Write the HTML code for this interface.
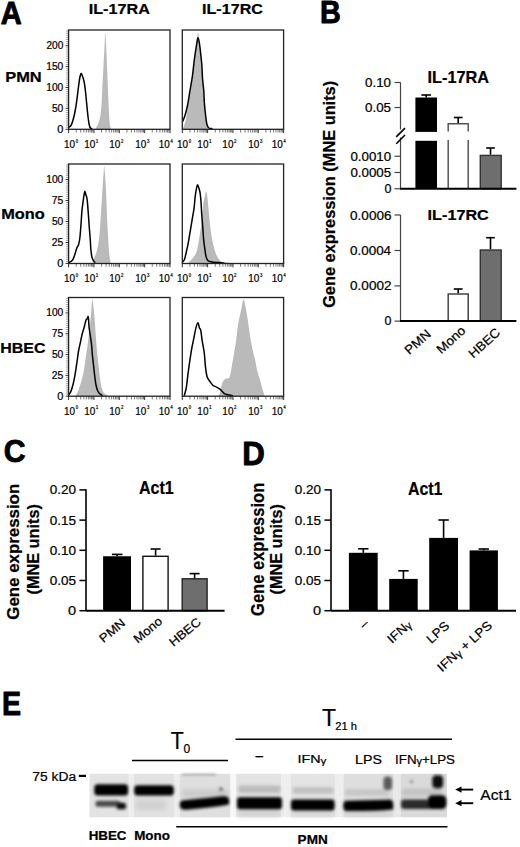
<!DOCTYPE html>
<html><head><meta charset="utf-8"><style>
html,body{margin:0;padding:0;background:#fff;width:520px;height:847px;overflow:hidden}
svg{display:block}
text{font-family:"Liberation Sans",sans-serif;stroke:#000;stroke-width:0.22px;stroke-linejoin:round}
</style></head><body>
<svg width="520" height="847" viewBox="0 0 520 847">
<rect width="520" height="847" fill="#fff"/>
<text transform="translate(1.45,23.52) scale(0.92,1) translate(-0.79,0)" font-size="31.63" font-weight="bold" fill="#000" style="stroke-width:0.9px">A</text>
<text transform="translate(89.75,13.75) scale(1.05,1) translate(-1,0)" font-size="15.43" font-weight="bold" fill="#000">IL-17RA</text>
<text transform="translate(203.1,13.75) scale(1.06,1) translate(-0.99,0)" font-size="15.21" font-weight="bold" fill="#000">IL-17RC</text>
<text transform="translate(6.25,81.5) scale(1.08,1) translate(-0.99,0)" font-size="15.22" font-weight="bold" fill="#000">PMN</text>
<text transform="translate(2.25,219.4) scale(1.13,1) translate(-0.94,0)" font-size="14.49" font-weight="bold" fill="#000">Mono</text>
<text transform="translate(1.25,352.5) scale(1.12,1) translate(-0.93,0)" font-size="14.29" font-weight="bold" fill="#000">HBEC</text>
<text transform="translate(57.6,132.8) scale(1.1,1) translate(-0.4,0)" font-size="10" font-weight="normal" fill="#000">0</text>
<text transform="translate(52.3,111.89) scale(1.02,1) translate(-0.4,0)" font-size="10" font-weight="normal" fill="#000">50</text>
<text transform="translate(47,90.99) scale(1.02,1) translate(-0.75,0)" font-size="10" font-weight="normal" fill="#000">100</text>
<text transform="translate(47,70.08) scale(1.02,1) translate(-0.75,0)" font-size="10" font-weight="normal" fill="#000">150</text>
<text transform="translate(47,49.18) scale(1.01,1) translate(-0.5,0)" font-size="10" font-weight="normal" fill="#000">200</text>
<path d="M96,129.3 C96,129.08 95.58,129.05 96,128 C96.42,126.95 97.77,125.08 98.5,123 C99.23,120.92 99.85,118.83 100.38,115.5 C100.9,112.17 101.27,108.21 101.62,103 C101.98,97.79 102.19,90.5 102.5,84.25 C102.81,78 103.17,71.75 103.5,65.5 C103.83,59.25 104.19,52.27 104.5,46.75 C104.81,41.23 105.08,32.38 105.38,32.38 C105.67,32.38 105.94,40.19 106.25,46.75 C106.56,53.31 106.92,63.42 107.25,71.75 C107.58,80.08 107.94,89.46 108.25,96.75 C108.56,104.04 108.83,110.71 109.12,115.5 C109.42,120.29 109.69,123.42 110,125.5 C110.31,127.58 110.83,127.37 111,128 C111.17,128.63 111,129.08 111,129.3 Z" fill="#bababa" stroke="none"/>
<path d="M68.5,127.38 C68.92,127.06 70.27,126.65 71,125.5 C71.73,124.35 72.25,122.58 72.88,120.5 C73.5,118.42 74.12,116.12 74.75,113 C75.38,109.88 76,106.12 76.62,101.75 C77.25,97.38 77.98,90.71 78.5,86.75 C79.02,82.79 79.33,80.19 79.75,78 C80.17,75.81 80.58,74.04 81,73.62 C81.42,73.21 81.73,74.15 82.25,75.5 C82.77,76.85 83.6,79.25 84.12,81.75 C84.65,84.25 84.96,86.96 85.38,90.5 C85.79,94.04 86.21,98.83 86.62,103 C87.04,107.17 87.46,111.96 87.88,115.5 C88.29,119.04 88.71,122.17 89.12,124.25 C89.54,126.33 89.85,127.27 90.38,128 C90.9,128.73 91.94,128.52 92.25,128.62" fill="none" stroke="#000" stroke-width="1.5" stroke-linejoin="round"/>
<line x1="65.6" y1="129.3" x2="68.6" y2="129.3" stroke="#333" stroke-width="1" />
<line x1="66" y1="127.21" x2="68.6" y2="127.21" stroke="#666" stroke-width="0.6" />
<line x1="66" y1="125.12" x2="68.6" y2="125.12" stroke="#666" stroke-width="0.6" />
<line x1="66" y1="123.03" x2="68.6" y2="123.03" stroke="#666" stroke-width="0.6" />
<line x1="66" y1="120.94" x2="68.6" y2="120.94" stroke="#666" stroke-width="0.6" />
<line x1="66" y1="118.85" x2="68.6" y2="118.85" stroke="#666" stroke-width="0.6" />
<line x1="66" y1="116.76" x2="68.6" y2="116.76" stroke="#666" stroke-width="0.6" />
<line x1="66" y1="114.67" x2="68.6" y2="114.67" stroke="#666" stroke-width="0.6" />
<line x1="66" y1="112.58" x2="68.6" y2="112.58" stroke="#666" stroke-width="0.6" />
<line x1="66" y1="110.49" x2="68.6" y2="110.49" stroke="#666" stroke-width="0.6" />
<line x1="65.6" y1="108.39" x2="68.6" y2="108.39" stroke="#333" stroke-width="1" />
<line x1="66" y1="106.3" x2="68.6" y2="106.3" stroke="#666" stroke-width="0.6" />
<line x1="66" y1="104.21" x2="68.6" y2="104.21" stroke="#666" stroke-width="0.6" />
<line x1="66" y1="102.12" x2="68.6" y2="102.12" stroke="#666" stroke-width="0.6" />
<line x1="66" y1="100.03" x2="68.6" y2="100.03" stroke="#666" stroke-width="0.6" />
<line x1="66" y1="97.94" x2="68.6" y2="97.94" stroke="#666" stroke-width="0.6" />
<line x1="66" y1="95.85" x2="68.6" y2="95.85" stroke="#666" stroke-width="0.6" />
<line x1="66" y1="93.76" x2="68.6" y2="93.76" stroke="#666" stroke-width="0.6" />
<line x1="66" y1="91.67" x2="68.6" y2="91.67" stroke="#666" stroke-width="0.6" />
<line x1="66" y1="89.58" x2="68.6" y2="89.58" stroke="#666" stroke-width="0.6" />
<line x1="65.6" y1="87.49" x2="68.6" y2="87.49" stroke="#333" stroke-width="1" />
<line x1="66" y1="85.4" x2="68.6" y2="85.4" stroke="#666" stroke-width="0.6" />
<line x1="66" y1="83.31" x2="68.6" y2="83.31" stroke="#666" stroke-width="0.6" />
<line x1="66" y1="81.22" x2="68.6" y2="81.22" stroke="#666" stroke-width="0.6" />
<line x1="66" y1="79.13" x2="68.6" y2="79.13" stroke="#666" stroke-width="0.6" />
<line x1="66" y1="77.04" x2="68.6" y2="77.04" stroke="#666" stroke-width="0.6" />
<line x1="66" y1="74.95" x2="68.6" y2="74.95" stroke="#666" stroke-width="0.6" />
<line x1="66" y1="72.86" x2="68.6" y2="72.86" stroke="#666" stroke-width="0.6" />
<line x1="66" y1="70.77" x2="68.6" y2="70.77" stroke="#666" stroke-width="0.6" />
<line x1="66" y1="68.67" x2="68.6" y2="68.67" stroke="#666" stroke-width="0.6" />
<line x1="65.6" y1="66.58" x2="68.6" y2="66.58" stroke="#333" stroke-width="1" />
<line x1="66" y1="64.49" x2="68.6" y2="64.49" stroke="#666" stroke-width="0.6" />
<line x1="66" y1="62.4" x2="68.6" y2="62.4" stroke="#666" stroke-width="0.6" />
<line x1="66" y1="60.31" x2="68.6" y2="60.31" stroke="#666" stroke-width="0.6" />
<line x1="66" y1="58.22" x2="68.6" y2="58.22" stroke="#666" stroke-width="0.6" />
<line x1="66" y1="56.13" x2="68.6" y2="56.13" stroke="#666" stroke-width="0.6" />
<line x1="66" y1="54.04" x2="68.6" y2="54.04" stroke="#666" stroke-width="0.6" />
<line x1="66" y1="51.95" x2="68.6" y2="51.95" stroke="#666" stroke-width="0.6" />
<line x1="66" y1="49.86" x2="68.6" y2="49.86" stroke="#666" stroke-width="0.6" />
<line x1="66" y1="47.77" x2="68.6" y2="47.77" stroke="#666" stroke-width="0.6" />
<line x1="65.6" y1="45.68" x2="68.6" y2="45.68" stroke="#333" stroke-width="1" />
<line x1="66" y1="43.59" x2="68.6" y2="43.59" stroke="#666" stroke-width="0.6" />
<line x1="66" y1="41.5" x2="68.6" y2="41.5" stroke="#666" stroke-width="0.6" />
<line x1="66" y1="39.41" x2="68.6" y2="39.41" stroke="#666" stroke-width="0.6" />
<line x1="66" y1="37.32" x2="68.6" y2="37.32" stroke="#666" stroke-width="0.6" />
<line x1="66" y1="35.23" x2="68.6" y2="35.23" stroke="#666" stroke-width="0.6" />
<line x1="66" y1="33.14" x2="68.6" y2="33.14" stroke="#666" stroke-width="0.6" />
<line x1="66" y1="31.05" x2="68.6" y2="31.05" stroke="#666" stroke-width="0.6" />
<line x1="68.6" y1="129.3" x2="68.6" y2="133.1" stroke="#333" stroke-width="1" />
<line x1="76.23" y1="129.3" x2="76.23" y2="132.5" stroke="#555" stroke-width="0.8" />
<line x1="80.7" y1="129.3" x2="80.7" y2="132.5" stroke="#555" stroke-width="0.8" />
<line x1="83.86" y1="129.3" x2="83.86" y2="132.5" stroke="#555" stroke-width="0.8" />
<line x1="86.32" y1="129.3" x2="86.32" y2="132.5" stroke="#555" stroke-width="0.8" />
<line x1="88.33" y1="129.3" x2="88.33" y2="132.5" stroke="#555" stroke-width="0.8" />
<line x1="90.02" y1="129.3" x2="90.02" y2="132.5" stroke="#555" stroke-width="0.8" />
<line x1="91.49" y1="129.3" x2="91.49" y2="132.5" stroke="#555" stroke-width="0.8" />
<line x1="92.79" y1="129.3" x2="92.79" y2="132.5" stroke="#555" stroke-width="0.8" />
<line x1="93.95" y1="129.3" x2="93.95" y2="133.1" stroke="#333" stroke-width="1" />
<line x1="101.58" y1="129.3" x2="101.58" y2="132.5" stroke="#555" stroke-width="0.8" />
<line x1="106.05" y1="129.3" x2="106.05" y2="132.5" stroke="#555" stroke-width="0.8" />
<line x1="109.21" y1="129.3" x2="109.21" y2="132.5" stroke="#555" stroke-width="0.8" />
<line x1="111.67" y1="129.3" x2="111.67" y2="132.5" stroke="#555" stroke-width="0.8" />
<line x1="113.68" y1="129.3" x2="113.68" y2="132.5" stroke="#555" stroke-width="0.8" />
<line x1="115.37" y1="129.3" x2="115.37" y2="132.5" stroke="#555" stroke-width="0.8" />
<line x1="116.84" y1="129.3" x2="116.84" y2="132.5" stroke="#555" stroke-width="0.8" />
<line x1="118.14" y1="129.3" x2="118.14" y2="132.5" stroke="#555" stroke-width="0.8" />
<line x1="119.3" y1="129.3" x2="119.3" y2="133.1" stroke="#333" stroke-width="1" />
<line x1="126.93" y1="129.3" x2="126.93" y2="132.5" stroke="#555" stroke-width="0.8" />
<line x1="131.4" y1="129.3" x2="131.4" y2="132.5" stroke="#555" stroke-width="0.8" />
<line x1="134.56" y1="129.3" x2="134.56" y2="132.5" stroke="#555" stroke-width="0.8" />
<line x1="137.02" y1="129.3" x2="137.02" y2="132.5" stroke="#555" stroke-width="0.8" />
<line x1="139.03" y1="129.3" x2="139.03" y2="132.5" stroke="#555" stroke-width="0.8" />
<line x1="140.72" y1="129.3" x2="140.72" y2="132.5" stroke="#555" stroke-width="0.8" />
<line x1="142.19" y1="129.3" x2="142.19" y2="132.5" stroke="#555" stroke-width="0.8" />
<line x1="143.49" y1="129.3" x2="143.49" y2="132.5" stroke="#555" stroke-width="0.8" />
<line x1="144.65" y1="129.3" x2="144.65" y2="133.1" stroke="#333" stroke-width="1" />
<line x1="152.28" y1="129.3" x2="152.28" y2="132.5" stroke="#555" stroke-width="0.8" />
<line x1="156.75" y1="129.3" x2="156.75" y2="132.5" stroke="#555" stroke-width="0.8" />
<line x1="159.91" y1="129.3" x2="159.91" y2="132.5" stroke="#555" stroke-width="0.8" />
<line x1="162.37" y1="129.3" x2="162.37" y2="132.5" stroke="#555" stroke-width="0.8" />
<line x1="164.38" y1="129.3" x2="164.38" y2="132.5" stroke="#555" stroke-width="0.8" />
<line x1="166.07" y1="129.3" x2="166.07" y2="132.5" stroke="#555" stroke-width="0.8" />
<line x1="167.54" y1="129.3" x2="167.54" y2="132.5" stroke="#555" stroke-width="0.8" />
<line x1="168.84" y1="129.3" x2="168.84" y2="132.5" stroke="#555" stroke-width="0.8" />
<line x1="170" y1="129.3" x2="170" y2="133.1" stroke="#333" stroke-width="1" />
<rect x="68.6" y="30" width="101.4" height="99.3" fill="none" stroke="#222" stroke-width="1.3"/>
<text transform="translate(64.75,147.6) scale(0.94,1) translate(-0.79,0)" font-size="10.57" font-weight="normal" fill="#000">10</text>
<text transform="translate(75.95,142.5) scale(0.81,1) translate(-0.21,0)" font-size="5.14" font-weight="normal" fill="#000">0</text>
<text transform="translate(85,147.6) scale(0.94,1) translate(-0.79,0)" font-size="10.57" font-weight="normal" fill="#000">10</text>
<text transform="translate(96.2,142.5) scale(0.88,1) translate(-0.39,0)" font-size="5.22" font-weight="normal" fill="#000">1</text>
<text transform="translate(110,147.6) scale(0.94,1) translate(-0.79,0)" font-size="10.57" font-weight="normal" fill="#000">10</text>
<text transform="translate(121.2,142.5) scale(0.85,1) translate(-0.26,0)" font-size="5.14" font-weight="normal" fill="#000">2</text>
<text transform="translate(136,147.6) scale(0.94,1) translate(-0.79,0)" font-size="10.57" font-weight="normal" fill="#000">10</text>
<text transform="translate(147.2,142.5) scale(0.82,1) translate(-0.21,0)" font-size="5.14" font-weight="normal" fill="#000">3</text>
<text transform="translate(159.4,147.6) scale(0.94,1) translate(-0.79,0)" font-size="10.57" font-weight="normal" fill="#000">10</text>
<text transform="translate(170.6,142.5) scale(0.76,1) translate(-0.1,0)" font-size="5.22" font-weight="normal" fill="#000">4</text>
<path d="M183.12,129.3 C183.12,129.08 182.71,129.47 183.12,128 C183.54,126.53 184.85,123.83 185.62,120.5 C186.4,117.17 186.98,113 187.75,108 C188.52,103 189.42,95.92 190.25,90.5 C191.08,85.08 192.02,80.71 192.75,75.5 C193.48,70.29 194,64.46 194.62,59.25 C195.25,54.04 195.92,48.73 196.5,44.25 C197.08,39.77 197.58,32.38 198.12,32.38 C198.67,32.38 199.27,40.19 199.75,44.25 C200.23,48.31 200.58,51.54 201,56.75 C201.42,61.96 201.83,69.88 202.25,75.5 C202.67,81.12 203.08,85.5 203.5,90.5 C203.92,95.5 204.33,100.92 204.75,105.5 C205.17,110.08 205.5,114.25 206,118 C206.5,121.75 207.46,126.12 207.75,128 C208.04,129.88 207.75,129.08 207.75,129.3 Z" fill="#bababa" stroke="none"/>
<path d="M182.5,121.75 C182.92,120.71 184.17,118.21 185,115.5 C185.83,112.79 186.67,109.67 187.5,105.5 C188.33,101.33 189.17,95.5 190,90.5 C190.83,85.5 191.77,80.71 192.5,75.5 C193.23,70.29 193.75,64.04 194.38,59.25 C195,54.46 195.73,50.08 196.25,46.75 C196.77,43.42 197.19,40.71 197.5,39.25 C197.81,37.79 197.81,37.38 198.12,38 C198.44,38.62 198.96,40.5 199.38,43 C199.79,45.5 200.21,49.25 200.62,53 C201.04,56.75 201.56,61.33 201.88,65.5 C202.19,69.67 202.19,73.83 202.5,78 C202.81,82.17 203.44,86.33 203.75,90.5 C204.06,94.67 204.06,98.83 204.38,103 C204.69,107.17 205.21,111.96 205.62,115.5 C206.04,119.04 206.35,122.17 206.88,124.25 C207.4,126.33 207.81,127.27 208.75,128 C209.69,128.73 211.88,128.52 212.5,128.62" fill="none" stroke="#000" stroke-width="1.5" stroke-linejoin="round"/>
<line x1="182.3" y1="129.3" x2="182.3" y2="133.1" stroke="#333" stroke-width="1" />
<line x1="189.92" y1="129.3" x2="189.92" y2="132.5" stroke="#555" stroke-width="0.8" />
<line x1="194.38" y1="129.3" x2="194.38" y2="132.5" stroke="#555" stroke-width="0.8" />
<line x1="197.55" y1="129.3" x2="197.55" y2="132.5" stroke="#555" stroke-width="0.8" />
<line x1="200" y1="129.3" x2="200" y2="132.5" stroke="#555" stroke-width="0.8" />
<line x1="202.01" y1="129.3" x2="202.01" y2="132.5" stroke="#555" stroke-width="0.8" />
<line x1="203.7" y1="129.3" x2="203.7" y2="132.5" stroke="#555" stroke-width="0.8" />
<line x1="205.17" y1="129.3" x2="205.17" y2="132.5" stroke="#555" stroke-width="0.8" />
<line x1="206.47" y1="129.3" x2="206.47" y2="132.5" stroke="#555" stroke-width="0.8" />
<line x1="207.62" y1="129.3" x2="207.62" y2="133.1" stroke="#333" stroke-width="1" />
<line x1="215.25" y1="129.3" x2="215.25" y2="132.5" stroke="#555" stroke-width="0.8" />
<line x1="219.71" y1="129.3" x2="219.71" y2="132.5" stroke="#555" stroke-width="0.8" />
<line x1="222.87" y1="129.3" x2="222.87" y2="132.5" stroke="#555" stroke-width="0.8" />
<line x1="225.33" y1="129.3" x2="225.33" y2="132.5" stroke="#555" stroke-width="0.8" />
<line x1="227.33" y1="129.3" x2="227.33" y2="132.5" stroke="#555" stroke-width="0.8" />
<line x1="229.03" y1="129.3" x2="229.03" y2="132.5" stroke="#555" stroke-width="0.8" />
<line x1="230.5" y1="129.3" x2="230.5" y2="132.5" stroke="#555" stroke-width="0.8" />
<line x1="231.79" y1="129.3" x2="231.79" y2="132.5" stroke="#555" stroke-width="0.8" />
<line x1="232.95" y1="129.3" x2="232.95" y2="133.1" stroke="#333" stroke-width="1" />
<line x1="240.57" y1="129.3" x2="240.57" y2="132.5" stroke="#555" stroke-width="0.8" />
<line x1="245.03" y1="129.3" x2="245.03" y2="132.5" stroke="#555" stroke-width="0.8" />
<line x1="248.2" y1="129.3" x2="248.2" y2="132.5" stroke="#555" stroke-width="0.8" />
<line x1="250.65" y1="129.3" x2="250.65" y2="132.5" stroke="#555" stroke-width="0.8" />
<line x1="252.66" y1="129.3" x2="252.66" y2="132.5" stroke="#555" stroke-width="0.8" />
<line x1="254.35" y1="129.3" x2="254.35" y2="132.5" stroke="#555" stroke-width="0.8" />
<line x1="255.82" y1="129.3" x2="255.82" y2="132.5" stroke="#555" stroke-width="0.8" />
<line x1="257.12" y1="129.3" x2="257.12" y2="132.5" stroke="#555" stroke-width="0.8" />
<line x1="258.28" y1="129.3" x2="258.28" y2="133.1" stroke="#333" stroke-width="1" />
<line x1="265.9" y1="129.3" x2="265.9" y2="132.5" stroke="#555" stroke-width="0.8" />
<line x1="270.36" y1="129.3" x2="270.36" y2="132.5" stroke="#555" stroke-width="0.8" />
<line x1="273.52" y1="129.3" x2="273.52" y2="132.5" stroke="#555" stroke-width="0.8" />
<line x1="275.98" y1="129.3" x2="275.98" y2="132.5" stroke="#555" stroke-width="0.8" />
<line x1="277.98" y1="129.3" x2="277.98" y2="132.5" stroke="#555" stroke-width="0.8" />
<line x1="279.68" y1="129.3" x2="279.68" y2="132.5" stroke="#555" stroke-width="0.8" />
<line x1="281.15" y1="129.3" x2="281.15" y2="132.5" stroke="#555" stroke-width="0.8" />
<line x1="282.44" y1="129.3" x2="282.44" y2="132.5" stroke="#555" stroke-width="0.8" />
<line x1="283.6" y1="129.3" x2="283.6" y2="133.1" stroke="#333" stroke-width="1" />
<rect x="182.3" y="30" width="101.3" height="99.3" fill="none" stroke="#222" stroke-width="1.3"/>
<text transform="translate(177.75,147.6) scale(0.94,1) translate(-0.79,0)" font-size="10.57" font-weight="normal" fill="#000">10</text>
<text transform="translate(188.95,142.5) scale(0.81,1) translate(-0.21,0)" font-size="5.14" font-weight="normal" fill="#000">0</text>
<text transform="translate(198.1,147.6) scale(0.94,1) translate(-0.79,0)" font-size="10.57" font-weight="normal" fill="#000">10</text>
<text transform="translate(209.3,142.5) scale(0.88,1) translate(-0.39,0)" font-size="5.22" font-weight="normal" fill="#000">1</text>
<text transform="translate(223.1,147.6) scale(0.94,1) translate(-0.79,0)" font-size="10.57" font-weight="normal" fill="#000">10</text>
<text transform="translate(234.3,142.5) scale(0.85,1) translate(-0.26,0)" font-size="5.14" font-weight="normal" fill="#000">2</text>
<text transform="translate(249,147.6) scale(0.94,1) translate(-0.79,0)" font-size="10.57" font-weight="normal" fill="#000">10</text>
<text transform="translate(260.2,142.5) scale(0.82,1) translate(-0.21,0)" font-size="5.14" font-weight="normal" fill="#000">3</text>
<text transform="translate(272.4,147.6) scale(0.94,1) translate(-0.79,0)" font-size="10.57" font-weight="normal" fill="#000">10</text>
<text transform="translate(283.6,142.5) scale(0.76,1) translate(-0.1,0)" font-size="5.22" font-weight="normal" fill="#000">4</text>
<text transform="translate(57.6,267) scale(1.1,1) translate(-0.4,0)" font-size="10" font-weight="normal" fill="#000">0</text>
<text transform="translate(52.3,246.01) scale(1.04,1) translate(-0.5,0)" font-size="10" font-weight="normal" fill="#000">25</text>
<text transform="translate(52.3,225.02) scale(1.02,1) translate(-0.4,0)" font-size="10" font-weight="normal" fill="#000">50</text>
<text transform="translate(52.3,204.03) scale(1.02,1) translate(-0.51,0)" font-size="10.14" font-weight="normal" fill="#000">75</text>
<text transform="translate(47,183.03) scale(1.02,1) translate(-0.75,0)" font-size="10" font-weight="normal" fill="#000">100</text>
<path d="M92.77,263.5 C92.77,263.24 92.45,263.07 92.77,261.96 C93.08,260.86 94.04,258.56 94.68,256.86 C95.31,255.17 95.95,254.1 96.59,251.77 C97.23,249.43 97.97,246.24 98.5,242.84 C99.03,239.45 99.41,235.62 99.78,231.37 C100.14,227.13 100.35,222.24 100.67,217.35 C100.99,212.47 101.35,207.37 101.69,202.06 C102.03,196.75 102.39,190.38 102.71,185.49 C103.03,180.6 103.34,175.93 103.6,172.75 C103.85,169.56 104.02,166.37 104.24,166.37 C104.45,166.37 104.62,169.56 104.87,172.75 C105.13,175.93 105.49,180.6 105.77,185.49 C106.04,190.38 106.32,196.75 106.53,202.06 C106.74,207.37 106.83,212.47 107.04,217.35 C107.25,222.24 107.53,226.49 107.8,231.37 C108.08,236.26 108.4,242.42 108.7,246.67 C108.99,250.92 109.27,254.32 109.59,256.86 C109.91,259.41 110.44,260.86 110.61,261.96 C110.78,263.07 110.61,263.24 110.61,263.5 Z" fill="#bababa" stroke="none"/>
<path d="M68.55,262.6 C68.97,262.39 70.35,261.86 71.1,261.33 C71.84,260.79 72.37,260.58 73.01,259.41 C73.65,258.25 74.28,256.23 74.92,254.32 C75.56,252.4 76.2,249.64 76.83,247.94 C77.47,246.24 78.21,246.03 78.75,244.12 C79.28,242.21 79.64,239.87 80.02,236.47 C80.4,233.07 80.72,227.98 81.04,223.73 C81.36,219.48 81.57,214.8 81.93,210.98 C82.29,207.16 82.85,203.55 83.21,200.79 C83.57,198.02 83.82,196.01 84.1,194.41 C84.37,192.82 84.59,191.23 84.86,191.23 C85.14,191.23 85.46,193.46 85.76,194.41 C86.05,195.37 86.37,195.69 86.65,196.96 C86.92,198.24 87.14,199.3 87.41,202.06 C87.69,204.82 88.01,209.49 88.3,213.53 C88.6,217.57 88.88,222.03 89.2,226.28 C89.52,230.52 89.94,235.2 90.22,239.02 C90.49,242.84 90.58,246.24 90.85,249.22 C91.13,252.19 91.45,254.95 91.87,256.86 C92.3,258.78 92.83,259.73 93.4,260.69 C93.98,261.64 95,262.28 95.31,262.6" fill="none" stroke="#000" stroke-width="1.5" stroke-linejoin="round"/>
<line x1="65.6" y1="263.5" x2="68.6" y2="263.5" stroke="#333" stroke-width="1" />
<line x1="66" y1="261.4" x2="68.6" y2="261.4" stroke="#666" stroke-width="0.6" />
<line x1="66" y1="259.3" x2="68.6" y2="259.3" stroke="#666" stroke-width="0.6" />
<line x1="66" y1="257.2" x2="68.6" y2="257.2" stroke="#666" stroke-width="0.6" />
<line x1="66" y1="255.1" x2="68.6" y2="255.1" stroke="#666" stroke-width="0.6" />
<line x1="66" y1="253" x2="68.6" y2="253" stroke="#666" stroke-width="0.6" />
<line x1="66" y1="250.91" x2="68.6" y2="250.91" stroke="#666" stroke-width="0.6" />
<line x1="66" y1="248.81" x2="68.6" y2="248.81" stroke="#666" stroke-width="0.6" />
<line x1="66" y1="246.71" x2="68.6" y2="246.71" stroke="#666" stroke-width="0.6" />
<line x1="66" y1="244.61" x2="68.6" y2="244.61" stroke="#666" stroke-width="0.6" />
<line x1="65.6" y1="242.51" x2="68.6" y2="242.51" stroke="#333" stroke-width="1" />
<line x1="66" y1="240.41" x2="68.6" y2="240.41" stroke="#666" stroke-width="0.6" />
<line x1="66" y1="238.31" x2="68.6" y2="238.31" stroke="#666" stroke-width="0.6" />
<line x1="66" y1="236.21" x2="68.6" y2="236.21" stroke="#666" stroke-width="0.6" />
<line x1="66" y1="234.11" x2="68.6" y2="234.11" stroke="#666" stroke-width="0.6" />
<line x1="66" y1="232.01" x2="68.6" y2="232.01" stroke="#666" stroke-width="0.6" />
<line x1="66" y1="229.91" x2="68.6" y2="229.91" stroke="#666" stroke-width="0.6" />
<line x1="66" y1="227.81" x2="68.6" y2="227.81" stroke="#666" stroke-width="0.6" />
<line x1="66" y1="225.72" x2="68.6" y2="225.72" stroke="#666" stroke-width="0.6" />
<line x1="66" y1="223.62" x2="68.6" y2="223.62" stroke="#666" stroke-width="0.6" />
<line x1="65.6" y1="221.52" x2="68.6" y2="221.52" stroke="#333" stroke-width="1" />
<line x1="66" y1="219.42" x2="68.6" y2="219.42" stroke="#666" stroke-width="0.6" />
<line x1="66" y1="217.32" x2="68.6" y2="217.32" stroke="#666" stroke-width="0.6" />
<line x1="66" y1="215.22" x2="68.6" y2="215.22" stroke="#666" stroke-width="0.6" />
<line x1="66" y1="213.12" x2="68.6" y2="213.12" stroke="#666" stroke-width="0.6" />
<line x1="66" y1="211.02" x2="68.6" y2="211.02" stroke="#666" stroke-width="0.6" />
<line x1="66" y1="208.92" x2="68.6" y2="208.92" stroke="#666" stroke-width="0.6" />
<line x1="66" y1="206.82" x2="68.6" y2="206.82" stroke="#666" stroke-width="0.6" />
<line x1="66" y1="204.72" x2="68.6" y2="204.72" stroke="#666" stroke-width="0.6" />
<line x1="66" y1="202.62" x2="68.6" y2="202.62" stroke="#666" stroke-width="0.6" />
<line x1="65.6" y1="200.53" x2="68.6" y2="200.53" stroke="#333" stroke-width="1" />
<line x1="66" y1="198.43" x2="68.6" y2="198.43" stroke="#666" stroke-width="0.6" />
<line x1="66" y1="196.33" x2="68.6" y2="196.33" stroke="#666" stroke-width="0.6" />
<line x1="66" y1="194.23" x2="68.6" y2="194.23" stroke="#666" stroke-width="0.6" />
<line x1="66" y1="192.13" x2="68.6" y2="192.13" stroke="#666" stroke-width="0.6" />
<line x1="66" y1="190.03" x2="68.6" y2="190.03" stroke="#666" stroke-width="0.6" />
<line x1="66" y1="187.93" x2="68.6" y2="187.93" stroke="#666" stroke-width="0.6" />
<line x1="66" y1="185.83" x2="68.6" y2="185.83" stroke="#666" stroke-width="0.6" />
<line x1="66" y1="183.73" x2="68.6" y2="183.73" stroke="#666" stroke-width="0.6" />
<line x1="66" y1="181.63" x2="68.6" y2="181.63" stroke="#666" stroke-width="0.6" />
<line x1="65.6" y1="179.53" x2="68.6" y2="179.53" stroke="#333" stroke-width="1" />
<line x1="66" y1="177.43" x2="68.6" y2="177.43" stroke="#666" stroke-width="0.6" />
<line x1="66" y1="175.34" x2="68.6" y2="175.34" stroke="#666" stroke-width="0.6" />
<line x1="66" y1="173.24" x2="68.6" y2="173.24" stroke="#666" stroke-width="0.6" />
<line x1="66" y1="171.14" x2="68.6" y2="171.14" stroke="#666" stroke-width="0.6" />
<line x1="66" y1="169.04" x2="68.6" y2="169.04" stroke="#666" stroke-width="0.6" />
<line x1="66" y1="166.94" x2="68.6" y2="166.94" stroke="#666" stroke-width="0.6" />
<line x1="66" y1="164.84" x2="68.6" y2="164.84" stroke="#666" stroke-width="0.6" />
<line x1="68.6" y1="263.5" x2="68.6" y2="267.3" stroke="#333" stroke-width="1" />
<line x1="76.23" y1="263.5" x2="76.23" y2="266.7" stroke="#555" stroke-width="0.8" />
<line x1="80.7" y1="263.5" x2="80.7" y2="266.7" stroke="#555" stroke-width="0.8" />
<line x1="83.86" y1="263.5" x2="83.86" y2="266.7" stroke="#555" stroke-width="0.8" />
<line x1="86.32" y1="263.5" x2="86.32" y2="266.7" stroke="#555" stroke-width="0.8" />
<line x1="88.33" y1="263.5" x2="88.33" y2="266.7" stroke="#555" stroke-width="0.8" />
<line x1="90.02" y1="263.5" x2="90.02" y2="266.7" stroke="#555" stroke-width="0.8" />
<line x1="91.49" y1="263.5" x2="91.49" y2="266.7" stroke="#555" stroke-width="0.8" />
<line x1="92.79" y1="263.5" x2="92.79" y2="266.7" stroke="#555" stroke-width="0.8" />
<line x1="93.95" y1="263.5" x2="93.95" y2="267.3" stroke="#333" stroke-width="1" />
<line x1="101.58" y1="263.5" x2="101.58" y2="266.7" stroke="#555" stroke-width="0.8" />
<line x1="106.05" y1="263.5" x2="106.05" y2="266.7" stroke="#555" stroke-width="0.8" />
<line x1="109.21" y1="263.5" x2="109.21" y2="266.7" stroke="#555" stroke-width="0.8" />
<line x1="111.67" y1="263.5" x2="111.67" y2="266.7" stroke="#555" stroke-width="0.8" />
<line x1="113.68" y1="263.5" x2="113.68" y2="266.7" stroke="#555" stroke-width="0.8" />
<line x1="115.37" y1="263.5" x2="115.37" y2="266.7" stroke="#555" stroke-width="0.8" />
<line x1="116.84" y1="263.5" x2="116.84" y2="266.7" stroke="#555" stroke-width="0.8" />
<line x1="118.14" y1="263.5" x2="118.14" y2="266.7" stroke="#555" stroke-width="0.8" />
<line x1="119.3" y1="263.5" x2="119.3" y2="267.3" stroke="#333" stroke-width="1" />
<line x1="126.93" y1="263.5" x2="126.93" y2="266.7" stroke="#555" stroke-width="0.8" />
<line x1="131.4" y1="263.5" x2="131.4" y2="266.7" stroke="#555" stroke-width="0.8" />
<line x1="134.56" y1="263.5" x2="134.56" y2="266.7" stroke="#555" stroke-width="0.8" />
<line x1="137.02" y1="263.5" x2="137.02" y2="266.7" stroke="#555" stroke-width="0.8" />
<line x1="139.03" y1="263.5" x2="139.03" y2="266.7" stroke="#555" stroke-width="0.8" />
<line x1="140.72" y1="263.5" x2="140.72" y2="266.7" stroke="#555" stroke-width="0.8" />
<line x1="142.19" y1="263.5" x2="142.19" y2="266.7" stroke="#555" stroke-width="0.8" />
<line x1="143.49" y1="263.5" x2="143.49" y2="266.7" stroke="#555" stroke-width="0.8" />
<line x1="144.65" y1="263.5" x2="144.65" y2="267.3" stroke="#333" stroke-width="1" />
<line x1="152.28" y1="263.5" x2="152.28" y2="266.7" stroke="#555" stroke-width="0.8" />
<line x1="156.75" y1="263.5" x2="156.75" y2="266.7" stroke="#555" stroke-width="0.8" />
<line x1="159.91" y1="263.5" x2="159.91" y2="266.7" stroke="#555" stroke-width="0.8" />
<line x1="162.37" y1="263.5" x2="162.37" y2="266.7" stroke="#555" stroke-width="0.8" />
<line x1="164.38" y1="263.5" x2="164.38" y2="266.7" stroke="#555" stroke-width="0.8" />
<line x1="166.07" y1="263.5" x2="166.07" y2="266.7" stroke="#555" stroke-width="0.8" />
<line x1="167.54" y1="263.5" x2="167.54" y2="266.7" stroke="#555" stroke-width="0.8" />
<line x1="168.84" y1="263.5" x2="168.84" y2="266.7" stroke="#555" stroke-width="0.8" />
<line x1="170" y1="263.5" x2="170" y2="267.3" stroke="#333" stroke-width="1" />
<rect x="68.6" y="164" width="101.4" height="99.5" fill="none" stroke="#222" stroke-width="1.3"/>
<text transform="translate(64.75,281.8) scale(0.94,1) translate(-0.79,0)" font-size="10.57" font-weight="normal" fill="#000">10</text>
<text transform="translate(75.95,276.7) scale(0.81,1) translate(-0.21,0)" font-size="5.14" font-weight="normal" fill="#000">0</text>
<text transform="translate(85,281.8) scale(0.94,1) translate(-0.79,0)" font-size="10.57" font-weight="normal" fill="#000">10</text>
<text transform="translate(96.2,276.7) scale(0.88,1) translate(-0.39,0)" font-size="5.22" font-weight="normal" fill="#000">1</text>
<text transform="translate(110,281.8) scale(0.94,1) translate(-0.79,0)" font-size="10.57" font-weight="normal" fill="#000">10</text>
<text transform="translate(121.2,276.7) scale(0.85,1) translate(-0.26,0)" font-size="5.14" font-weight="normal" fill="#000">2</text>
<text transform="translate(136,281.8) scale(0.94,1) translate(-0.79,0)" font-size="10.57" font-weight="normal" fill="#000">10</text>
<text transform="translate(147.2,276.7) scale(0.82,1) translate(-0.21,0)" font-size="5.14" font-weight="normal" fill="#000">3</text>
<text transform="translate(159.4,281.8) scale(0.94,1) translate(-0.79,0)" font-size="10.57" font-weight="normal" fill="#000">10</text>
<text transform="translate(170.6,276.7) scale(0.76,1) translate(-0.1,0)" font-size="5.22" font-weight="normal" fill="#000">4</text>
<path d="M188.92,263.5 C188.92,263.24 188.28,262.86 188.92,261.96 C189.56,261.07 191.47,259.84 192.75,258.14 C194.02,256.44 195.51,254.95 196.57,251.77 C197.63,248.58 198.37,243.27 199.12,239.02 C199.86,234.77 200.5,230.52 201.03,226.28 C201.56,222.03 201.88,217.57 202.3,213.53 C202.73,209.49 203.05,205.46 203.58,202.06 C204.11,198.66 205.07,194.84 205.49,193.14 C205.92,191.44 205.81,191.23 206.13,191.86 C206.45,192.5 206.98,193.78 207.4,196.96 C207.83,200.15 208.25,206.52 208.68,210.98 C209.1,215.44 209.53,219.9 209.95,223.73 C210.38,227.55 210.7,230.52 211.23,233.92 C211.76,237.32 212.39,240.93 213.14,244.12 C213.88,247.31 214.84,250.7 215.69,253.04 C216.54,255.38 217.17,256.65 218.24,258.14 C219.3,259.63 220.36,261.22 222.06,261.96 C223.76,262.71 227.37,262.34 228.43,262.6 C229.49,262.86 228.43,263.35 228.43,263.5 Z" fill="#bababa" stroke="none"/>
<path d="M182.55,261.96 C182.87,261.54 183.82,261.11 184.46,259.41 C185.1,257.71 185.74,254.53 186.37,251.77 C187.01,249.01 187.65,246.24 188.28,242.84 C188.92,239.45 189.56,235.2 190.2,231.37 C190.83,227.55 191.47,223.73 192.11,219.9 C192.75,216.08 193.49,212.47 194.02,208.43 C194.55,204.4 194.87,199.09 195.29,195.69 C195.72,192.29 196.19,189.85 196.57,188.04 C196.95,186.23 197.21,184.85 197.59,184.85 C197.97,184.85 198.44,186.66 198.86,188.04 C199.29,189.42 199.78,190.8 200.14,193.14 C200.5,195.47 200.77,198.66 201.03,202.06 C201.28,205.46 201.39,209.49 201.67,213.53 C201.94,217.57 202.37,222.03 202.69,226.28 C203.01,230.52 203.22,235.2 203.58,239.02 C203.94,242.84 204.43,246.24 204.85,249.22 C205.28,252.19 205.6,254.95 206.13,256.86 C206.66,258.78 207.08,259.84 208.04,260.69 C209,261.54 210.16,261.64 211.86,261.96 C213.56,262.28 216.11,262.39 218.24,262.6 C220.36,262.81 223.55,263.13 224.61,263.24" fill="none" stroke="#000" stroke-width="1.5" stroke-linejoin="round"/>
<line x1="182.3" y1="263.5" x2="182.3" y2="267.3" stroke="#333" stroke-width="1" />
<line x1="189.92" y1="263.5" x2="189.92" y2="266.7" stroke="#555" stroke-width="0.8" />
<line x1="194.38" y1="263.5" x2="194.38" y2="266.7" stroke="#555" stroke-width="0.8" />
<line x1="197.55" y1="263.5" x2="197.55" y2="266.7" stroke="#555" stroke-width="0.8" />
<line x1="200" y1="263.5" x2="200" y2="266.7" stroke="#555" stroke-width="0.8" />
<line x1="202.01" y1="263.5" x2="202.01" y2="266.7" stroke="#555" stroke-width="0.8" />
<line x1="203.7" y1="263.5" x2="203.7" y2="266.7" stroke="#555" stroke-width="0.8" />
<line x1="205.17" y1="263.5" x2="205.17" y2="266.7" stroke="#555" stroke-width="0.8" />
<line x1="206.47" y1="263.5" x2="206.47" y2="266.7" stroke="#555" stroke-width="0.8" />
<line x1="207.62" y1="263.5" x2="207.62" y2="267.3" stroke="#333" stroke-width="1" />
<line x1="215.25" y1="263.5" x2="215.25" y2="266.7" stroke="#555" stroke-width="0.8" />
<line x1="219.71" y1="263.5" x2="219.71" y2="266.7" stroke="#555" stroke-width="0.8" />
<line x1="222.87" y1="263.5" x2="222.87" y2="266.7" stroke="#555" stroke-width="0.8" />
<line x1="225.33" y1="263.5" x2="225.33" y2="266.7" stroke="#555" stroke-width="0.8" />
<line x1="227.33" y1="263.5" x2="227.33" y2="266.7" stroke="#555" stroke-width="0.8" />
<line x1="229.03" y1="263.5" x2="229.03" y2="266.7" stroke="#555" stroke-width="0.8" />
<line x1="230.5" y1="263.5" x2="230.5" y2="266.7" stroke="#555" stroke-width="0.8" />
<line x1="231.79" y1="263.5" x2="231.79" y2="266.7" stroke="#555" stroke-width="0.8" />
<line x1="232.95" y1="263.5" x2="232.95" y2="267.3" stroke="#333" stroke-width="1" />
<line x1="240.57" y1="263.5" x2="240.57" y2="266.7" stroke="#555" stroke-width="0.8" />
<line x1="245.03" y1="263.5" x2="245.03" y2="266.7" stroke="#555" stroke-width="0.8" />
<line x1="248.2" y1="263.5" x2="248.2" y2="266.7" stroke="#555" stroke-width="0.8" />
<line x1="250.65" y1="263.5" x2="250.65" y2="266.7" stroke="#555" stroke-width="0.8" />
<line x1="252.66" y1="263.5" x2="252.66" y2="266.7" stroke="#555" stroke-width="0.8" />
<line x1="254.35" y1="263.5" x2="254.35" y2="266.7" stroke="#555" stroke-width="0.8" />
<line x1="255.82" y1="263.5" x2="255.82" y2="266.7" stroke="#555" stroke-width="0.8" />
<line x1="257.12" y1="263.5" x2="257.12" y2="266.7" stroke="#555" stroke-width="0.8" />
<line x1="258.28" y1="263.5" x2="258.28" y2="267.3" stroke="#333" stroke-width="1" />
<line x1="265.9" y1="263.5" x2="265.9" y2="266.7" stroke="#555" stroke-width="0.8" />
<line x1="270.36" y1="263.5" x2="270.36" y2="266.7" stroke="#555" stroke-width="0.8" />
<line x1="273.52" y1="263.5" x2="273.52" y2="266.7" stroke="#555" stroke-width="0.8" />
<line x1="275.98" y1="263.5" x2="275.98" y2="266.7" stroke="#555" stroke-width="0.8" />
<line x1="277.98" y1="263.5" x2="277.98" y2="266.7" stroke="#555" stroke-width="0.8" />
<line x1="279.68" y1="263.5" x2="279.68" y2="266.7" stroke="#555" stroke-width="0.8" />
<line x1="281.15" y1="263.5" x2="281.15" y2="266.7" stroke="#555" stroke-width="0.8" />
<line x1="282.44" y1="263.5" x2="282.44" y2="266.7" stroke="#555" stroke-width="0.8" />
<line x1="283.6" y1="263.5" x2="283.6" y2="267.3" stroke="#333" stroke-width="1" />
<rect x="182.3" y="164" width="101.3" height="99.5" fill="none" stroke="#222" stroke-width="1.3"/>
<text transform="translate(177.75,281.8) scale(0.94,1) translate(-0.79,0)" font-size="10.57" font-weight="normal" fill="#000">10</text>
<text transform="translate(188.95,276.7) scale(0.81,1) translate(-0.21,0)" font-size="5.14" font-weight="normal" fill="#000">0</text>
<text transform="translate(198.1,281.8) scale(0.94,1) translate(-0.79,0)" font-size="10.57" font-weight="normal" fill="#000">10</text>
<text transform="translate(209.3,276.7) scale(0.88,1) translate(-0.39,0)" font-size="5.22" font-weight="normal" fill="#000">1</text>
<text transform="translate(223.1,281.8) scale(0.94,1) translate(-0.79,0)" font-size="10.57" font-weight="normal" fill="#000">10</text>
<text transform="translate(234.3,276.7) scale(0.85,1) translate(-0.26,0)" font-size="5.14" font-weight="normal" fill="#000">2</text>
<text transform="translate(249,281.8) scale(0.94,1) translate(-0.79,0)" font-size="10.57" font-weight="normal" fill="#000">10</text>
<text transform="translate(260.2,276.7) scale(0.82,1) translate(-0.21,0)" font-size="5.14" font-weight="normal" fill="#000">3</text>
<text transform="translate(272.4,281.8) scale(0.94,1) translate(-0.79,0)" font-size="10.57" font-weight="normal" fill="#000">10</text>
<text transform="translate(283.6,276.7) scale(0.76,1) translate(-0.1,0)" font-size="5.22" font-weight="normal" fill="#000">4</text>
<text transform="translate(57.6,399.7) scale(1.1,1) translate(-0.4,0)" font-size="10" font-weight="normal" fill="#000">0</text>
<text transform="translate(52.3,378.88) scale(1.04,1) translate(-0.5,0)" font-size="10" font-weight="normal" fill="#000">25</text>
<text transform="translate(52.3,358.05) scale(1.02,1) translate(-0.4,0)" font-size="10" font-weight="normal" fill="#000">50</text>
<text transform="translate(52.3,337.23) scale(1.02,1) translate(-0.51,0)" font-size="10.14" font-weight="normal" fill="#000">75</text>
<text transform="translate(47,316.41) scale(1.02,1) translate(-0.75,0)" font-size="10" font-weight="normal" fill="#000">100</text>
<path d="M76,396.2 C76,396 75.58,396.03 76,395 C76.42,393.97 77.67,392.08 78.5,390 C79.33,387.92 80.17,385.42 81,382.5 C81.83,379.58 82.77,376.25 83.5,372.5 C84.23,368.75 84.75,364.17 85.38,360 C86,355.83 86.73,351.25 87.25,347.5 C87.77,343.75 88.08,341.04 88.5,337.5 C88.92,333.96 89.33,330.21 89.75,326.25 C90.17,322.29 90.58,318.23 91,313.75 C91.42,309.27 91.83,300.42 92.25,299.38 C92.67,298.33 93.08,304.06 93.5,307.5 C93.92,310.94 94.33,314.79 94.75,320 C95.17,325.21 95.58,333.12 96,338.75 C96.42,344.38 96.83,349.38 97.25,353.75 C97.67,358.12 98.08,361.25 98.5,365 C98.92,368.75 99.33,372.92 99.75,376.25 C100.17,379.58 100.48,382.5 101,385 C101.52,387.5 102.25,389.79 102.88,391.25 C103.5,392.71 104.02,393.12 104.75,393.75 C105.48,394.38 106.83,394.59 107.25,395 C107.67,395.41 107.25,396 107.25,396.2 Z" fill="#bababa" stroke="none"/>
<path d="M68.5,395 C68.92,394.38 70.17,393.33 71,391.25 C71.83,389.17 72.77,385.62 73.5,382.5 C74.23,379.38 74.75,376.25 75.38,372.5 C76,368.75 76.73,363.54 77.25,360 C77.77,356.46 77.98,354.17 78.5,351.25 C79.02,348.33 79.75,345.42 80.38,342.5 C81,339.58 81.62,336.25 82.25,333.75 C82.88,331.25 83.5,329.79 84.12,327.5 C84.75,325.21 85.48,321.46 86,320 C86.52,318.54 86.88,319.27 87.25,318.75 C87.62,318.23 87.94,315.42 88.25,316.88 C88.56,318.33 88.77,324.27 89.12,327.5 C89.48,330.73 89.96,333.33 90.38,336.25 C90.79,339.17 91.31,342.08 91.62,345 C91.94,347.92 91.94,350.42 92.25,353.75 C92.56,357.08 93.08,361.25 93.5,365 C93.92,368.75 94.33,372.92 94.75,376.25 C95.17,379.58 95.48,382.5 96,385 C96.52,387.5 97.25,389.79 97.88,391.25 C98.5,392.71 99.12,393.12 99.75,393.75 C100.38,394.38 101.21,394.59 101.62,395 C102.04,395.41 102.15,396 102.25,396.2" fill="none" stroke="#000" stroke-width="1.5" stroke-linejoin="round"/>
<line x1="65.6" y1="396.2" x2="68.6" y2="396.2" stroke="#333" stroke-width="1" />
<line x1="66" y1="394.12" x2="68.6" y2="394.12" stroke="#666" stroke-width="0.6" />
<line x1="66" y1="392.04" x2="68.6" y2="392.04" stroke="#666" stroke-width="0.6" />
<line x1="66" y1="389.95" x2="68.6" y2="389.95" stroke="#666" stroke-width="0.6" />
<line x1="66" y1="387.87" x2="68.6" y2="387.87" stroke="#666" stroke-width="0.6" />
<line x1="66" y1="385.79" x2="68.6" y2="385.79" stroke="#666" stroke-width="0.6" />
<line x1="66" y1="383.71" x2="68.6" y2="383.71" stroke="#666" stroke-width="0.6" />
<line x1="66" y1="381.62" x2="68.6" y2="381.62" stroke="#666" stroke-width="0.6" />
<line x1="66" y1="379.54" x2="68.6" y2="379.54" stroke="#666" stroke-width="0.6" />
<line x1="66" y1="377.46" x2="68.6" y2="377.46" stroke="#666" stroke-width="0.6" />
<line x1="65.6" y1="375.38" x2="68.6" y2="375.38" stroke="#333" stroke-width="1" />
<line x1="66" y1="373.29" x2="68.6" y2="373.29" stroke="#666" stroke-width="0.6" />
<line x1="66" y1="371.21" x2="68.6" y2="371.21" stroke="#666" stroke-width="0.6" />
<line x1="66" y1="369.13" x2="68.6" y2="369.13" stroke="#666" stroke-width="0.6" />
<line x1="66" y1="367.05" x2="68.6" y2="367.05" stroke="#666" stroke-width="0.6" />
<line x1="66" y1="364.97" x2="68.6" y2="364.97" stroke="#666" stroke-width="0.6" />
<line x1="66" y1="362.88" x2="68.6" y2="362.88" stroke="#666" stroke-width="0.6" />
<line x1="66" y1="360.8" x2="68.6" y2="360.8" stroke="#666" stroke-width="0.6" />
<line x1="66" y1="358.72" x2="68.6" y2="358.72" stroke="#666" stroke-width="0.6" />
<line x1="66" y1="356.64" x2="68.6" y2="356.64" stroke="#666" stroke-width="0.6" />
<line x1="65.6" y1="354.55" x2="68.6" y2="354.55" stroke="#333" stroke-width="1" />
<line x1="66" y1="352.47" x2="68.6" y2="352.47" stroke="#666" stroke-width="0.6" />
<line x1="66" y1="350.39" x2="68.6" y2="350.39" stroke="#666" stroke-width="0.6" />
<line x1="66" y1="348.31" x2="68.6" y2="348.31" stroke="#666" stroke-width="0.6" />
<line x1="66" y1="346.23" x2="68.6" y2="346.23" stroke="#666" stroke-width="0.6" />
<line x1="66" y1="344.14" x2="68.6" y2="344.14" stroke="#666" stroke-width="0.6" />
<line x1="66" y1="342.06" x2="68.6" y2="342.06" stroke="#666" stroke-width="0.6" />
<line x1="66" y1="339.98" x2="68.6" y2="339.98" stroke="#666" stroke-width="0.6" />
<line x1="66" y1="337.9" x2="68.6" y2="337.9" stroke="#666" stroke-width="0.6" />
<line x1="66" y1="335.81" x2="68.6" y2="335.81" stroke="#666" stroke-width="0.6" />
<line x1="65.6" y1="333.73" x2="68.6" y2="333.73" stroke="#333" stroke-width="1" />
<line x1="66" y1="331.65" x2="68.6" y2="331.65" stroke="#666" stroke-width="0.6" />
<line x1="66" y1="329.57" x2="68.6" y2="329.57" stroke="#666" stroke-width="0.6" />
<line x1="66" y1="327.48" x2="68.6" y2="327.48" stroke="#666" stroke-width="0.6" />
<line x1="66" y1="325.4" x2="68.6" y2="325.4" stroke="#666" stroke-width="0.6" />
<line x1="66" y1="323.32" x2="68.6" y2="323.32" stroke="#666" stroke-width="0.6" />
<line x1="66" y1="321.24" x2="68.6" y2="321.24" stroke="#666" stroke-width="0.6" />
<line x1="66" y1="319.16" x2="68.6" y2="319.16" stroke="#666" stroke-width="0.6" />
<line x1="66" y1="317.07" x2="68.6" y2="317.07" stroke="#666" stroke-width="0.6" />
<line x1="66" y1="314.99" x2="68.6" y2="314.99" stroke="#666" stroke-width="0.6" />
<line x1="65.6" y1="312.91" x2="68.6" y2="312.91" stroke="#333" stroke-width="1" />
<line x1="66" y1="310.83" x2="68.6" y2="310.83" stroke="#666" stroke-width="0.6" />
<line x1="66" y1="308.74" x2="68.6" y2="308.74" stroke="#666" stroke-width="0.6" />
<line x1="66" y1="306.66" x2="68.6" y2="306.66" stroke="#666" stroke-width="0.6" />
<line x1="66" y1="304.58" x2="68.6" y2="304.58" stroke="#666" stroke-width="0.6" />
<line x1="66" y1="302.5" x2="68.6" y2="302.5" stroke="#666" stroke-width="0.6" />
<line x1="66" y1="300.42" x2="68.6" y2="300.42" stroke="#666" stroke-width="0.6" />
<line x1="66" y1="298.33" x2="68.6" y2="298.33" stroke="#666" stroke-width="0.6" />
<line x1="68.6" y1="396.2" x2="68.6" y2="400" stroke="#333" stroke-width="1" />
<line x1="76.23" y1="396.2" x2="76.23" y2="399.4" stroke="#555" stroke-width="0.8" />
<line x1="80.7" y1="396.2" x2="80.7" y2="399.4" stroke="#555" stroke-width="0.8" />
<line x1="83.86" y1="396.2" x2="83.86" y2="399.4" stroke="#555" stroke-width="0.8" />
<line x1="86.32" y1="396.2" x2="86.32" y2="399.4" stroke="#555" stroke-width="0.8" />
<line x1="88.33" y1="396.2" x2="88.33" y2="399.4" stroke="#555" stroke-width="0.8" />
<line x1="90.02" y1="396.2" x2="90.02" y2="399.4" stroke="#555" stroke-width="0.8" />
<line x1="91.49" y1="396.2" x2="91.49" y2="399.4" stroke="#555" stroke-width="0.8" />
<line x1="92.79" y1="396.2" x2="92.79" y2="399.4" stroke="#555" stroke-width="0.8" />
<line x1="93.95" y1="396.2" x2="93.95" y2="400" stroke="#333" stroke-width="1" />
<line x1="101.58" y1="396.2" x2="101.58" y2="399.4" stroke="#555" stroke-width="0.8" />
<line x1="106.05" y1="396.2" x2="106.05" y2="399.4" stroke="#555" stroke-width="0.8" />
<line x1="109.21" y1="396.2" x2="109.21" y2="399.4" stroke="#555" stroke-width="0.8" />
<line x1="111.67" y1="396.2" x2="111.67" y2="399.4" stroke="#555" stroke-width="0.8" />
<line x1="113.68" y1="396.2" x2="113.68" y2="399.4" stroke="#555" stroke-width="0.8" />
<line x1="115.37" y1="396.2" x2="115.37" y2="399.4" stroke="#555" stroke-width="0.8" />
<line x1="116.84" y1="396.2" x2="116.84" y2="399.4" stroke="#555" stroke-width="0.8" />
<line x1="118.14" y1="396.2" x2="118.14" y2="399.4" stroke="#555" stroke-width="0.8" />
<line x1="119.3" y1="396.2" x2="119.3" y2="400" stroke="#333" stroke-width="1" />
<line x1="126.93" y1="396.2" x2="126.93" y2="399.4" stroke="#555" stroke-width="0.8" />
<line x1="131.4" y1="396.2" x2="131.4" y2="399.4" stroke="#555" stroke-width="0.8" />
<line x1="134.56" y1="396.2" x2="134.56" y2="399.4" stroke="#555" stroke-width="0.8" />
<line x1="137.02" y1="396.2" x2="137.02" y2="399.4" stroke="#555" stroke-width="0.8" />
<line x1="139.03" y1="396.2" x2="139.03" y2="399.4" stroke="#555" stroke-width="0.8" />
<line x1="140.72" y1="396.2" x2="140.72" y2="399.4" stroke="#555" stroke-width="0.8" />
<line x1="142.19" y1="396.2" x2="142.19" y2="399.4" stroke="#555" stroke-width="0.8" />
<line x1="143.49" y1="396.2" x2="143.49" y2="399.4" stroke="#555" stroke-width="0.8" />
<line x1="144.65" y1="396.2" x2="144.65" y2="400" stroke="#333" stroke-width="1" />
<line x1="152.28" y1="396.2" x2="152.28" y2="399.4" stroke="#555" stroke-width="0.8" />
<line x1="156.75" y1="396.2" x2="156.75" y2="399.4" stroke="#555" stroke-width="0.8" />
<line x1="159.91" y1="396.2" x2="159.91" y2="399.4" stroke="#555" stroke-width="0.8" />
<line x1="162.37" y1="396.2" x2="162.37" y2="399.4" stroke="#555" stroke-width="0.8" />
<line x1="164.38" y1="396.2" x2="164.38" y2="399.4" stroke="#555" stroke-width="0.8" />
<line x1="166.07" y1="396.2" x2="166.07" y2="399.4" stroke="#555" stroke-width="0.8" />
<line x1="167.54" y1="396.2" x2="167.54" y2="399.4" stroke="#555" stroke-width="0.8" />
<line x1="168.84" y1="396.2" x2="168.84" y2="399.4" stroke="#555" stroke-width="0.8" />
<line x1="170" y1="396.2" x2="170" y2="400" stroke="#333" stroke-width="1" />
<rect x="68.6" y="297.5" width="101.4" height="98.7" fill="none" stroke="#222" stroke-width="1.3"/>
<text transform="translate(64.75,414.5) scale(0.94,1) translate(-0.79,0)" font-size="10.57" font-weight="normal" fill="#000">10</text>
<text transform="translate(75.95,409.4) scale(0.81,1) translate(-0.21,0)" font-size="5.14" font-weight="normal" fill="#000">0</text>
<text transform="translate(85,414.5) scale(0.94,1) translate(-0.79,0)" font-size="10.57" font-weight="normal" fill="#000">10</text>
<text transform="translate(96.2,409.4) scale(0.88,1) translate(-0.39,0)" font-size="5.22" font-weight="normal" fill="#000">1</text>
<text transform="translate(110,414.5) scale(0.94,1) translate(-0.79,0)" font-size="10.57" font-weight="normal" fill="#000">10</text>
<text transform="translate(121.2,409.4) scale(0.85,1) translate(-0.26,0)" font-size="5.14" font-weight="normal" fill="#000">2</text>
<text transform="translate(136,414.5) scale(0.94,1) translate(-0.79,0)" font-size="10.57" font-weight="normal" fill="#000">10</text>
<text transform="translate(147.2,409.4) scale(0.82,1) translate(-0.21,0)" font-size="5.14" font-weight="normal" fill="#000">3</text>
<text transform="translate(159.4,414.5) scale(0.94,1) translate(-0.79,0)" font-size="10.57" font-weight="normal" fill="#000">10</text>
<text transform="translate(170.6,409.4) scale(0.76,1) translate(-0.1,0)" font-size="5.22" font-weight="normal" fill="#000">4</text>
<path d="M219.14,396.2 C219.14,396.13 218.61,397.96 219.14,395.78 C219.67,393.59 221.25,385.9 222.31,383.08 C223.37,380.26 224.25,379.91 225.48,378.85 C226.72,377.79 228.48,379.91 229.71,376.74 C230.95,373.56 231.83,365.81 232.89,359.81 C233.95,353.82 235.18,346.77 236.06,340.77 C236.94,334.78 237.29,329.14 238.18,323.85 C239.06,318.56 240.47,313.09 241.35,309.04 C242.23,304.98 242.76,299.87 243.47,299.52 C244.17,299.17 244.88,303.57 245.58,306.92 C246.29,310.27 246.99,315.03 247.7,319.62 C248.4,324.2 248.93,329.14 249.81,334.43 C250.69,339.71 252.1,347.12 252.98,351.35 C253.87,355.58 254.4,356.64 255.1,359.81 C255.81,362.98 256.33,366.86 257.22,370.39 C258.1,373.92 259.51,377.79 260.39,380.97 C261.27,384.14 261.8,386.96 262.5,389.43 C263.21,391.9 264.27,394.65 264.62,395.78 C264.97,396.9 264.62,396.13 264.62,396.2 Z" fill="#bababa" stroke="none"/>
<path d="M184.23,395.78 C184.58,394.36 185.64,391.54 186.35,387.31 C187.05,383.08 187.58,376.74 188.46,370.39 C189.34,364.04 190.75,354.52 191.64,349.23 C192.52,343.95 193.05,342.18 193.75,338.66 C194.46,335.13 195.16,330.72 195.87,328.08 C196.57,325.43 197.38,322.79 197.98,322.79 C198.58,322.79 199,326.85 199.46,328.08 C199.92,329.31 200.27,328.08 200.73,330.19 C201.19,332.31 201.61,336.89 202.21,340.77 C202.81,344.65 203.8,349.23 204.33,353.47 C204.86,357.7 204.93,362.28 205.39,366.16 C205.84,370.04 206.37,374.27 207.08,376.74 C207.78,379.2 208.67,379.56 209.62,380.97 C210.57,382.38 211.56,384.14 212.79,385.2 C214.02,386.26 215.79,386.61 217.02,387.31 C218.26,388.02 219.31,388.72 220.19,389.43 C221.08,390.13 221.6,390.84 222.31,391.54 C223.02,392.25 223.54,393.13 224.43,393.66 C225.31,394.19 226.19,394.36 227.6,394.72 C229.01,395.07 232.01,395.6 232.89,395.78" fill="none" stroke="#000" stroke-width="1.5" stroke-linejoin="round"/>
<line x1="182.3" y1="396.2" x2="182.3" y2="400" stroke="#333" stroke-width="1" />
<line x1="189.92" y1="396.2" x2="189.92" y2="399.4" stroke="#555" stroke-width="0.8" />
<line x1="194.38" y1="396.2" x2="194.38" y2="399.4" stroke="#555" stroke-width="0.8" />
<line x1="197.55" y1="396.2" x2="197.55" y2="399.4" stroke="#555" stroke-width="0.8" />
<line x1="200" y1="396.2" x2="200" y2="399.4" stroke="#555" stroke-width="0.8" />
<line x1="202.01" y1="396.2" x2="202.01" y2="399.4" stroke="#555" stroke-width="0.8" />
<line x1="203.7" y1="396.2" x2="203.7" y2="399.4" stroke="#555" stroke-width="0.8" />
<line x1="205.17" y1="396.2" x2="205.17" y2="399.4" stroke="#555" stroke-width="0.8" />
<line x1="206.47" y1="396.2" x2="206.47" y2="399.4" stroke="#555" stroke-width="0.8" />
<line x1="207.62" y1="396.2" x2="207.62" y2="400" stroke="#333" stroke-width="1" />
<line x1="215.25" y1="396.2" x2="215.25" y2="399.4" stroke="#555" stroke-width="0.8" />
<line x1="219.71" y1="396.2" x2="219.71" y2="399.4" stroke="#555" stroke-width="0.8" />
<line x1="222.87" y1="396.2" x2="222.87" y2="399.4" stroke="#555" stroke-width="0.8" />
<line x1="225.33" y1="396.2" x2="225.33" y2="399.4" stroke="#555" stroke-width="0.8" />
<line x1="227.33" y1="396.2" x2="227.33" y2="399.4" stroke="#555" stroke-width="0.8" />
<line x1="229.03" y1="396.2" x2="229.03" y2="399.4" stroke="#555" stroke-width="0.8" />
<line x1="230.5" y1="396.2" x2="230.5" y2="399.4" stroke="#555" stroke-width="0.8" />
<line x1="231.79" y1="396.2" x2="231.79" y2="399.4" stroke="#555" stroke-width="0.8" />
<line x1="232.95" y1="396.2" x2="232.95" y2="400" stroke="#333" stroke-width="1" />
<line x1="240.57" y1="396.2" x2="240.57" y2="399.4" stroke="#555" stroke-width="0.8" />
<line x1="245.03" y1="396.2" x2="245.03" y2="399.4" stroke="#555" stroke-width="0.8" />
<line x1="248.2" y1="396.2" x2="248.2" y2="399.4" stroke="#555" stroke-width="0.8" />
<line x1="250.65" y1="396.2" x2="250.65" y2="399.4" stroke="#555" stroke-width="0.8" />
<line x1="252.66" y1="396.2" x2="252.66" y2="399.4" stroke="#555" stroke-width="0.8" />
<line x1="254.35" y1="396.2" x2="254.35" y2="399.4" stroke="#555" stroke-width="0.8" />
<line x1="255.82" y1="396.2" x2="255.82" y2="399.4" stroke="#555" stroke-width="0.8" />
<line x1="257.12" y1="396.2" x2="257.12" y2="399.4" stroke="#555" stroke-width="0.8" />
<line x1="258.28" y1="396.2" x2="258.28" y2="400" stroke="#333" stroke-width="1" />
<line x1="265.9" y1="396.2" x2="265.9" y2="399.4" stroke="#555" stroke-width="0.8" />
<line x1="270.36" y1="396.2" x2="270.36" y2="399.4" stroke="#555" stroke-width="0.8" />
<line x1="273.52" y1="396.2" x2="273.52" y2="399.4" stroke="#555" stroke-width="0.8" />
<line x1="275.98" y1="396.2" x2="275.98" y2="399.4" stroke="#555" stroke-width="0.8" />
<line x1="277.98" y1="396.2" x2="277.98" y2="399.4" stroke="#555" stroke-width="0.8" />
<line x1="279.68" y1="396.2" x2="279.68" y2="399.4" stroke="#555" stroke-width="0.8" />
<line x1="281.15" y1="396.2" x2="281.15" y2="399.4" stroke="#555" stroke-width="0.8" />
<line x1="282.44" y1="396.2" x2="282.44" y2="399.4" stroke="#555" stroke-width="0.8" />
<line x1="283.6" y1="396.2" x2="283.6" y2="400" stroke="#333" stroke-width="1" />
<rect x="182.3" y="297.5" width="101.3" height="98.7" fill="none" stroke="#222" stroke-width="1.3"/>
<text transform="translate(177.75,414.5) scale(0.94,1) translate(-0.79,0)" font-size="10.57" font-weight="normal" fill="#000">10</text>
<text transform="translate(188.95,409.4) scale(0.81,1) translate(-0.21,0)" font-size="5.14" font-weight="normal" fill="#000">0</text>
<text transform="translate(198.1,414.5) scale(0.94,1) translate(-0.79,0)" font-size="10.57" font-weight="normal" fill="#000">10</text>
<text transform="translate(209.3,409.4) scale(0.88,1) translate(-0.39,0)" font-size="5.22" font-weight="normal" fill="#000">1</text>
<text transform="translate(223.1,414.5) scale(0.94,1) translate(-0.79,0)" font-size="10.57" font-weight="normal" fill="#000">10</text>
<text transform="translate(234.3,409.4) scale(0.85,1) translate(-0.26,0)" font-size="5.14" font-weight="normal" fill="#000">2</text>
<text transform="translate(249,414.5) scale(0.94,1) translate(-0.79,0)" font-size="10.57" font-weight="normal" fill="#000">10</text>
<text transform="translate(260.2,409.4) scale(0.82,1) translate(-0.21,0)" font-size="5.14" font-weight="normal" fill="#000">3</text>
<text transform="translate(272.4,414.5) scale(0.94,1) translate(-0.79,0)" font-size="10.57" font-weight="normal" fill="#000">10</text>
<text transform="translate(283.6,409.4) scale(0.76,1) translate(-0.1,0)" font-size="5.22" font-weight="normal" fill="#000">4</text>
<text transform="translate(321.95,22.88) scale(0.92,1) translate(-2.04,0)" font-size="31.34" font-weight="bold" fill="#000" style="stroke-width:0.9px">B</text>
<text transform="translate(335,307.2) rotate(-90) scale(0.97,1) translate(-0.67,0)" font-size="16.86" font-weight="bold">Gene expression (MNE units)</text>
<text transform="translate(428.5,82.75) scale(0.98,1) translate(-1.08,0)" font-size="16.67" font-weight="bold" fill="#000">IL-17RA</text>
<line x1="400.5" y1="82.5" x2="400.5" y2="129.5" stroke="#444" stroke-width="1.2" />
<line x1="400.5" y1="137.5" x2="400.5" y2="188.75" stroke="#444" stroke-width="1.2" />
<line x1="394.5" y1="82.5" x2="400.5" y2="82.5" stroke="#444" stroke-width="1.2" />
<line x1="394.5" y1="107.5" x2="400.5" y2="107.5" stroke="#444" stroke-width="1.2" />
<line x1="394.5" y1="156.25" x2="400.5" y2="156.25" stroke="#444" stroke-width="1.2" />
<line x1="394.5" y1="172.5" x2="400.5" y2="172.5" stroke="#444" stroke-width="1.2" />
<line x1="394.5" y1="188.75" x2="400.5" y2="188.75" stroke="#444" stroke-width="1.2" />
<line x1="396.25" y1="136.9" x2="405" y2="128.1" stroke="#000" stroke-width="1.6" />
<line x1="396.25" y1="143.75" x2="405" y2="135" stroke="#000" stroke-width="1.6" />
<text transform="translate(365.6,87.3) scale(1.1,1) translate(-0.49,0)" font-size="12.14" font-weight="normal" fill="#000">0.10</text>
<text transform="translate(365.6,111.8) scale(1.1,1) translate(-0.49,0)" font-size="12.14" font-weight="normal" fill="#000">0.05</text>
<text transform="translate(351,160.6) scale(1.11,1) translate(-0.48,0)" font-size="12" font-weight="normal" fill="#000">0.0010</text>
<text transform="translate(351,176.9) scale(1.11,1) translate(-0.48,0)" font-size="12" font-weight="normal" fill="#000">0.0005</text>
<text transform="translate(385,193) scale(1.04,1) translate(-0.48,0)" font-size="12" font-weight="normal" fill="#000">0</text>
<line x1="426.2" y1="97.5" x2="426.2" y2="95" stroke="#000" stroke-width="1.6" />
<line x1="421.4" y1="95" x2="431" y2="95" stroke="#000" stroke-width="1.6" />
<rect x="415.4" y="97.5" width="21.6" height="34.4" fill="#000" stroke="none" stroke-width="0"/>
<rect x="415.4" y="140.8" width="21.6" height="47.95" fill="#000" stroke="none" stroke-width="0"/>
<line x1="458.2" y1="123" x2="458.2" y2="117.5" stroke="#000" stroke-width="1.6" />
<line x1="453.8" y1="117.5" x2="462.6" y2="117.5" stroke="#000" stroke-width="1.6" />
<path d="M448.2,131.5 V123.8 H468.2 V131.5" fill="#fff" stroke="#555" stroke-width="1.5"/>
<path d="M448.2,140 V188.75 M468.2,140 V188.75" fill="none" stroke="#555" stroke-width="1.5"/>
<line x1="490.5" y1="154.7" x2="490.5" y2="148" stroke="#000" stroke-width="1.6" />
<line x1="486.2" y1="148" x2="494.8" y2="148" stroke="#000" stroke-width="1.6" />
<rect x="480.3" y="155.4" width="20.9" height="33.35" fill="#6e6e6e" stroke="#333" stroke-width="1.4"/>
<line x1="400" y1="188.75" x2="516.4" y2="188.75" stroke="#000" stroke-width="2" />
<text transform="translate(428.65,220.4) scale(1.05,1) translate(-1,0)" font-size="15.43" font-weight="bold" fill="#000">IL-17RC</text>
<line x1="400.5" y1="215" x2="400.5" y2="321" stroke="#444" stroke-width="1.2" />
<line x1="394.5" y1="215" x2="400.5" y2="215" stroke="#444" stroke-width="1.2" />
<line x1="394.5" y1="250.5" x2="400.5" y2="250.5" stroke="#444" stroke-width="1.2" />
<line x1="394.5" y1="285.9" x2="400.5" y2="285.9" stroke="#444" stroke-width="1.2" />
<line x1="394.5" y1="321.1" x2="400.5" y2="321.1" stroke="#444" stroke-width="1.2" />
<text transform="translate(350.6,219.5) scale(1.09,1) translate(-0.5,0)" font-size="12.43" font-weight="normal" fill="#000">0.0006</text>
<text transform="translate(350.6,255) scale(1.08,1) translate(-0.5,0)" font-size="12.43" font-weight="normal" fill="#000">0.0004</text>
<text transform="translate(350.6,290.3) scale(1.09,1) translate(-0.5,0)" font-size="12.43" font-weight="normal" fill="#000">0.0002</text>
<text transform="translate(385,325.3) scale(1.04,1) translate(-0.48,0)" font-size="12" font-weight="normal" fill="#000">0</text>
<line x1="458.2" y1="293.3" x2="458.2" y2="289" stroke="#000" stroke-width="1.6" />
<line x1="453.8" y1="289" x2="462.6" y2="289" stroke="#000" stroke-width="1.6" />
<rect x="448.2" y="294" width="20" height="26.9" fill="#fff" stroke="#444" stroke-width="1.5"/>
<line x1="490.5" y1="249.3" x2="490.5" y2="237.7" stroke="#000" stroke-width="1.6" />
<line x1="486.2" y1="237.7" x2="494.8" y2="237.7" stroke="#000" stroke-width="1.6" />
<rect x="480.3" y="250" width="20.9" height="70.9" fill="#6e6e6e" stroke="#333" stroke-width="1.4"/>
<line x1="400" y1="320.9" x2="516.4" y2="320.9" stroke="#000" stroke-width="2" />
<text transform="translate(417.6,341.9) rotate(-42) scale(1.06,1)" x="0" y="4.4" font-size="12.8" text-anchor="middle">PMN</text>
<text transform="translate(450.9,339.8) rotate(-42) scale(1.06,1)" x="0" y="4.4" font-size="12.8" text-anchor="middle">Mono</text>
<text transform="translate(484.2,343) rotate(-42) scale(1.06,1)" x="0" y="4.4" font-size="12.8" text-anchor="middle">HBEC</text>
<text transform="translate(4.85,461.97) scale(0.96,1) translate(-1.26,0)" font-size="31.46" font-weight="bold" fill="#000" style="stroke-width:0.9px">C</text>
<text transform="translate(19.2,619) rotate(-90) scale(1,1) translate(-0.67,0)" font-size="16.86" font-weight="bold">Gene expression</text>
<text transform="translate(38.7,593.6) rotate(-90) scale(0.99,1) translate(-0.82,0)" font-size="16.42" font-weight="bold">(MNE units)</text>
<text transform="translate(139.4,493.8) scale(0.9,1) translate(-0.45,0)" font-size="17.83" font-weight="bold" fill="#000">Act1</text>
<line x1="86" y1="489.3" x2="86" y2="610.7" stroke="#000" stroke-width="1.6" />
<line x1="79.4" y1="489.9" x2="86" y2="489.9" stroke="#000" stroke-width="1.5" />
<text transform="translate(50.4,494.4) scale(1.05,1) translate(-0.51,0)" font-size="12.86" font-weight="normal" fill="#000">0.20</text>
<line x1="79.4" y1="520.1" x2="86" y2="520.1" stroke="#000" stroke-width="1.5" />
<text transform="translate(50.4,524.6) scale(1.05,1) translate(-0.51,0)" font-size="12.86" font-weight="normal" fill="#000">0.15</text>
<line x1="79.4" y1="550.3" x2="86" y2="550.3" stroke="#000" stroke-width="1.5" />
<text transform="translate(50.4,554.8) scale(1.05,1) translate(-0.51,0)" font-size="12.86" font-weight="normal" fill="#000">0.10</text>
<line x1="79.4" y1="580.5" x2="86" y2="580.5" stroke="#000" stroke-width="1.5" />
<text transform="translate(50.4,585) scale(1.05,1) translate(-0.51,0)" font-size="12.86" font-weight="normal" fill="#000">0.05</text>
<line x1="79.4" y1="610.7" x2="86" y2="610.7" stroke="#000" stroke-width="1.5" />
<text transform="translate(68.6,615.2) scale(1.13,1) translate(-0.51,0)" font-size="12.86" font-weight="normal" fill="#000">0</text>
<line x1="117.2" y1="556.25" x2="117.2" y2="554.4" stroke="#000" stroke-width="1.6" />
<line x1="111.9" y1="554.4" x2="122.5" y2="554.4" stroke="#000" stroke-width="1.6" />
<rect x="103.1" y="556.25" width="27.9" height="54.45" fill="#000" stroke="none" stroke-width="0"/>
<line x1="155.6" y1="555.6" x2="155.6" y2="549" stroke="#000" stroke-width="1.6" />
<line x1="150.6" y1="549" x2="160.6" y2="549" stroke="#000" stroke-width="1.6" />
<rect x="142.9" y="556.3" width="25.2" height="54.4" fill="#fff" stroke="#111" stroke-width="1.4"/>
<line x1="194.6" y1="578.5" x2="194.6" y2="573.6" stroke="#000" stroke-width="1.6" />
<line x1="189.6" y1="573.6" x2="199.6" y2="573.6" stroke="#000" stroke-width="1.6" />
<rect x="182.2" y="578.8" width="24.9" height="31.9" fill="#6e6e6e" stroke="#222" stroke-width="1.4"/>
<line x1="86" y1="610.7" x2="224.6" y2="610.7" stroke="#000" stroke-width="2" />
<text transform="translate(112.2,630.5) rotate(-40) scale(1.09,1)" x="0" y="4.2" font-size="12.2" text-anchor="middle">PMN</text>
<text transform="translate(147.7,629.9) rotate(-40) scale(1.09,1)" x="0" y="4.2" font-size="12.2" text-anchor="middle">Mono</text>
<text transform="translate(184.9,631.9) rotate(-40) scale(1.09,1)" x="0" y="4.2" font-size="12.2" text-anchor="middle">HBEC</text>
<text transform="translate(244.2,464.77) scale(0.96,1) translate(-2.11,0)" font-size="32.5" font-weight="bold" fill="#000" style="stroke-width:0.9px">D</text>
<text transform="translate(263.6,615.3) rotate(-90) scale(0.94,1) translate(-0.7,0)" font-size="17.59" font-weight="bold">Gene expression</text>
<text transform="translate(281.5,593.6) rotate(-90) scale(0.99,1) translate(-0.82,0)" font-size="16.42" font-weight="bold">(MNE units)</text>
<text transform="translate(408.3,494.6) scale(0.86,1) translate(-0.46,0)" font-size="18.55" font-weight="bold" fill="#000">Act1</text>
<line x1="331" y1="489.3" x2="331" y2="610.7" stroke="#000" stroke-width="1.6" />
<line x1="324.4" y1="489.9" x2="331" y2="489.9" stroke="#000" stroke-width="1.5" />
<text transform="translate(295.4,494.4) scale(1.05,1) translate(-0.51,0)" font-size="12.86" font-weight="normal" fill="#000">0.20</text>
<line x1="324.4" y1="520.1" x2="331" y2="520.1" stroke="#000" stroke-width="1.5" />
<text transform="translate(295.4,524.6) scale(1.05,1) translate(-0.51,0)" font-size="12.86" font-weight="normal" fill="#000">0.15</text>
<line x1="324.4" y1="550.3" x2="331" y2="550.3" stroke="#000" stroke-width="1.5" />
<text transform="translate(295.4,554.8) scale(1.05,1) translate(-0.51,0)" font-size="12.86" font-weight="normal" fill="#000">0.10</text>
<line x1="324.4" y1="580.5" x2="331" y2="580.5" stroke="#000" stroke-width="1.5" />
<text transform="translate(295.4,585) scale(1.05,1) translate(-0.51,0)" font-size="12.86" font-weight="normal" fill="#000">0.05</text>
<line x1="324.4" y1="610.7" x2="331" y2="610.7" stroke="#000" stroke-width="1.5" />
<text transform="translate(313.6,615.2) scale(1.13,1) translate(-0.51,0)" font-size="12.86" font-weight="normal" fill="#000">0</text>
<line x1="363.3" y1="552.8" x2="363.3" y2="548.8" stroke="#000" stroke-width="1.6" />
<line x1="358.1" y1="548.8" x2="368.5" y2="548.8" stroke="#000" stroke-width="1.6" />
<rect x="348.9" y="552.8" width="28.8" height="57.9" fill="#000" stroke="none" stroke-width="0"/>
<line x1="403.45" y1="578.9" x2="403.45" y2="570.8" stroke="#000" stroke-width="1.6" />
<line x1="398.25" y1="570.8" x2="408.65" y2="570.8" stroke="#000" stroke-width="1.6" />
<rect x="389.2" y="578.9" width="28.5" height="31.8" fill="#000" stroke="none" stroke-width="0"/>
<line x1="443.6" y1="537.9" x2="443.6" y2="520" stroke="#000" stroke-width="1.6" />
<line x1="438.4" y1="520" x2="448.8" y2="520" stroke="#000" stroke-width="1.6" />
<rect x="429.2" y="537.9" width="28.8" height="72.8" fill="#000" stroke="none" stroke-width="0"/>
<line x1="483.75" y1="550.4" x2="483.75" y2="549" stroke="#000" stroke-width="1.6" />
<line x1="478.55" y1="549" x2="488.95" y2="549" stroke="#000" stroke-width="1.6" />
<rect x="469.6" y="550.4" width="28.3" height="60.3" fill="#000" stroke="none" stroke-width="0"/>
<line x1="331" y1="610.7" x2="516" y2="610.7" stroke="#000" stroke-width="2" />
<text transform="translate(363.8,623.8) rotate(-42) scale(1.06,1)" x="0" y="4.4" font-size="12.8" text-anchor="middle">–</text>
<text transform="translate(399.2,631.6) rotate(-42) scale(1.06,1)" x="0" y="4.4" font-size="12.8" text-anchor="middle">IFN<tspan style="font-size:82%" dy="1">γ</tspan></text>
<text transform="translate(437.8,632.3) rotate(-42) scale(1.06,1)" x="0" y="4.4" font-size="12.8" text-anchor="middle">LPS</text>
<text transform="translate(464.6,646.2) rotate(-42) scale(1.06,1)" x="0" y="4.4" font-size="12.8" text-anchor="middle">IFN<tspan style="font-size:82%" dy="1">γ</tspan><tspan dy="-1"> + LPS</tspan></text>
<text transform="translate(3.95,714.77) scale(0.88,1) translate(-2.11,0)" font-size="32.5" font-weight="bold" fill="#000" style="stroke-width:0.9px">E</text>
<text transform="translate(171.25,748.6) scale(0.91,1) translate(-0.47,0)" font-size="23.33" font-weight="normal" fill="#000">T</text>
<text transform="translate(184,752.9) scale(0.97,1) translate(-0.5,0)" font-size="12.43" font-weight="normal" fill="#000">0</text>
<line x1="132" y1="760.5" x2="228" y2="760.5" stroke="#000" stroke-width="1.5" />
<text transform="translate(322.5,726.25) scale(0.99,1) translate(-0.46,0)" font-size="23.19" font-weight="normal" fill="#000">T</text>
<text transform="translate(335.8,729.8) scale(1.08,1) translate(-0.52,0)" font-size="10.34" font-weight="normal" fill="#000">21 h</text>
<line x1="235.5" y1="739.2" x2="452" y2="739.2" stroke="#000" stroke-width="1.5" />
<text transform="translate(255.5,761) scale(0.86,1) translate(-0,0)" font-size="15.79" font-weight="normal" fill="#000">–</text>
<text transform="translate(298.75,763.3) scale(1.23,1) translate(-1.05,0)" font-size="11.63" font-weight="normal" fill="#000">IFN<tspan style="font-size:82%" dy="1">γ</tspan></text>
<text transform="translate(356.25,763.5) scale(1.17,1) translate(-0.97,0)" font-size="12.14" font-weight="normal" fill="#000">LPS</text>
<text transform="translate(396.25,763.5) scale(1.08,1) translate(-1.11,0)" font-size="12.35" font-weight="normal" fill="#000">IFN<tspan style="font-size:82%" dy="1">γ</tspan><tspan dy="-1">+LPS</tspan></text>
<text transform="translate(33,780.5) scale(1.09,1) translate(-0.63,0)" font-size="12.69" font-weight="normal" fill="#000">75 kDa</text>
<line x1="78.8" y1="775.9" x2="86" y2="775.9" stroke="#000" stroke-width="2.2" />
<text transform="translate(480.3,800.4) scale(1.08,1) translate(-0,0)" font-size="14.49" font-weight="normal" fill="#000">Act1</text>
<line x1="459" y1="789.6" x2="473.2" y2="789.6" stroke="#000" stroke-width="1.9" />
<path d="M455.2,789.6 L461.5,786.5 L461.5,792.7 Z" fill="#000"/>
<line x1="459" y1="803.2" x2="473.2" y2="803.2" stroke="#000" stroke-width="1.9" />
<path d="M455.2,803.2 L461.5,800.1 L461.5,806.3 Z" fill="#000"/>
<text transform="translate(89.5,840) scale(1.07,1) translate(-0.81,0)" font-size="12.5" font-weight="bold" fill="#000">HBEC</text>
<text transform="translate(135,840) scale(1.06,1) translate(-0.82,0)" font-size="12.68" font-weight="bold" fill="#000">Mono</text>
<text transform="translate(298.5,843.9) scale(1.05,1) translate(-0.84,0)" font-size="12.9" font-weight="bold" fill="#000">PMN</text>
<line x1="176.25" y1="826.8" x2="447.5" y2="826.8" stroke="#000" stroke-width="1.5" />
<defs>
<filter id="b1" x="-30%" y="-80%" width="160%" height="260%"><feGaussianBlur stdDeviation="1.45"/></filter>
<filter id="b2" x="-30%" y="-80%" width="160%" height="260%"><feGaussianBlur stdDeviation="0.8"/></filter>
<filter id="b3" x="-30%" y="-80%" width="160%" height="260%"><feGaussianBlur stdDeviation="2.5"/></filter>
<filter id="b0" x="-5%" y="-10%" width="110%" height="120%"><feGaussianBlur stdDeviation="0.6"/></filter>
</defs>
<g filter="url(#b0)">
<rect x="89.5" y="773.8" width="39.3" height="43.5" fill="#e3e3e3" stroke="none" stroke-width="0"/>
<rect x="128.8" y="773.8" width="5.2" height="43.5" fill="#eeeeee" stroke="none" stroke-width="0"/>
<rect x="134" y="773.8" width="40" height="43.5" fill="#e2e2e2" stroke="none" stroke-width="0"/>
<rect x="174" y="773.8" width="5.6" height="43.5" fill="#ededed" stroke="none" stroke-width="0"/>
<rect x="179.6" y="773.8" width="50.9" height="43.5" fill="#dfdfdf" stroke="none" stroke-width="0"/>
<rect x="230.5" y="773.8" width="5.7" height="43.5" fill="#f8f8f8" stroke="none" stroke-width="0"/>
<rect x="236.2" y="773.8" width="45.3" height="43.5" fill="#e3e3e3" stroke="none" stroke-width="0"/>
<rect x="281.5" y="773.8" width="9" height="43.5" fill="#efefef" stroke="none" stroke-width="0"/>
<rect x="290.5" y="773.8" width="44.5" height="43.5" fill="#e4e4e4" stroke="none" stroke-width="0"/>
<rect x="335" y="773.8" width="8.5" height="43.5" fill="#eeeeee" stroke="none" stroke-width="0"/>
<rect x="343.5" y="773.8" width="49.5" height="43.5" fill="#dedede" stroke="none" stroke-width="0"/>
<rect x="393" y="773.8" width="7.5" height="43.5" fill="#e9e9e9" stroke="none" stroke-width="0"/>
<rect x="400.5" y="773.8" width="46.5" height="43.5" fill="#dadada" stroke="none" stroke-width="0"/>
</g>
<g filter="url(#b3)">
<rect x="136" y="800" width="30" height="10" fill="#d0d0d0"/>
<rect x="345" y="811" width="46" height="5" fill="#d0d0d0"/>
<rect x="238" y="810" width="42" height="6" fill="#d0d0d0"/>
<rect x="292" y="811" width="42" height="5" fill="#d4d4d4"/>
<rect x="182" y="790" width="46" height="7" fill="#c8c8c8"/>
</g>
<g filter="url(#b1)">
<rect x="238.5" y="785.5" width="42" height="7.5" rx="2" fill="#bcbcbc"/>
<rect x="292.5" y="787" width="41" height="7" rx="2" fill="#c2c2c2"/>
<rect x="345" y="789" width="44" height="7" rx="2" fill="#c8c8c8"/>
<rect x="402" y="788.5" width="40" height="7.5" rx="2" fill="#c4c4c4"/>
</g>
<g filter="url(#b1)">
<rect x="94.3" y="784.2" width="33.8" height="11.4" rx="3.5" fill="#030303"/>
<rect x="95.5" y="800.8" width="25" height="6" rx="2.5" fill="#4a4a4a"/>
<rect x="116.5" y="802.8" width="9.5" height="6.4" rx="2.5" fill="#0a0a0a"/>
<rect x="134.2" y="785.2" width="39.6" height="10.4" rx="3.5" fill="#030303"/>
<path d="M182,800.5 Q200,798.8 222,796.3 Q229.2,795.5 229.2,800.5 L229,804.5 Q214,807.5 186,809.8 Q179.8,809.8 179.8,805.5 Q179.8,801 182,800.5 Z" fill="#050505"/>
<line x1="182" y1="774.5" x2="216" y2="774.5" stroke="#777" stroke-width="1"/>
<circle cx="221" cy="789" r="1.6" fill="#333"/>
<rect x="237" y="797.3" width="45" height="12" rx="3" fill="#030303"/>
<rect x="291" y="799.6" width="43.6" height="10.8" rx="3" fill="#040404"/>
<path d="M346,800.8 L386,799.8 Q393.2,798.3 393.2,804 L393.2,809.5 Q380,811 346,811 Q343.3,810.8 343.3,806 Q343.3,800.8 346,800.8 Z" fill="#040404"/>
<rect x="383.5" y="776.5" width="8.5" height="13.5" rx="3.5" fill="#5a5a5a"/>
<rect x="401" y="799.6" width="32" height="9.4" rx="3" fill="#2a2a2a"/>
<rect x="428" y="795.3" width="18.3" height="13.7" rx="4.5" fill="#060606"/>
<rect x="432.3" y="775.3" width="10.8" height="13" rx="4" fill="#0a0a0a"/>
<circle cx="411.5" cy="781.6" r="1.2" fill="#444"/>
</g>
</svg>
</body></html>
